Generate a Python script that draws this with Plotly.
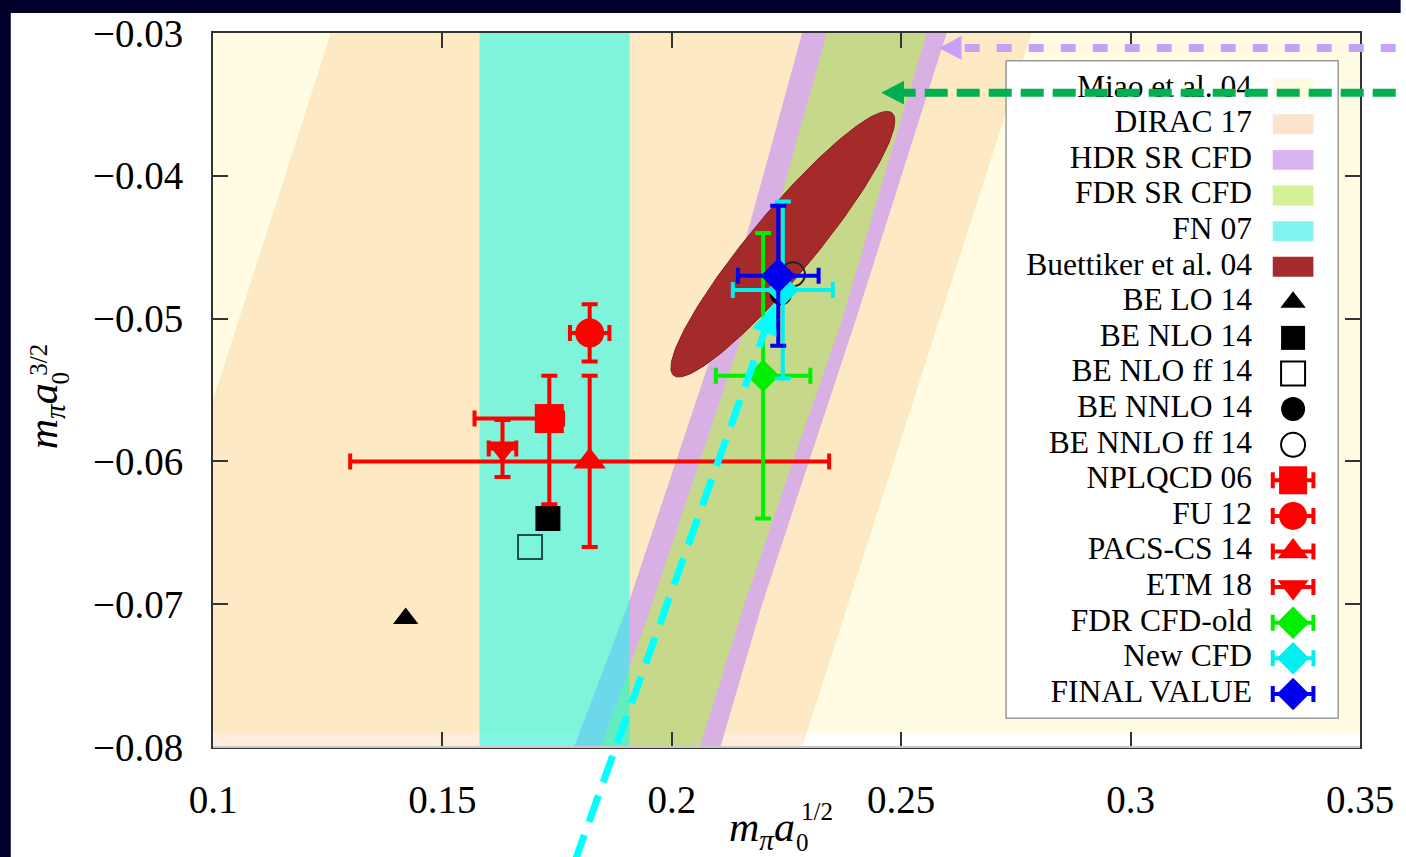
import numpy as np
import plotly.graph_objects as go

# ---------------- figure geometry (pixels) ----------------
W, H = 1406, 857
ML, MR, MT, MB = 213, 36, 29, 110
PW, PH = W - ML - MR, H - MT - MB
SERIF = "Liberation Serif, Times New Roman, Times, serif"

# ---------------- axes ----------------
x_range = [0.1, 0.35]
y_range = [-0.08, -0.03]
x_ticks = [0.1, 0.15, 0.2, 0.25, 0.3, 0.35]
x_ticklabels = ["0.1", "0.15", "0.2", "0.25", "0.3", "0.35"]
y_ticks = [-0.08, -0.07, -0.06, -0.05, -0.04, -0.03]
y_ticklabels = ["\u22120.08", "\u22120.07", "\u22120.06", "\u22120.05", "\u22120.04", "\u22120.03"]

# ---------------- constraint bands ----------------
# Miao et al. 04: lower bound on m a0^{3/2}
miao_ylow = -0.0790
# DIRAC 17: band in (a0^{1/2} - a0^{3/2})
dirac_diff = [0.1557, 0.3084]
# HDR / FDR sum-rule bands: x edges at given y
band_y = [-0.08, -0.07, -0.06, -0.05, -0.04, -0.03]
hdr_left = [0.1787, 0.1905, 0.2009, 0.2113, 0.2199, 0.2284]
hdr_right = [0.2106, 0.2197, 0.2299, 0.2402, 0.2500, 0.2599]
fdr_left = [0.1845, 0.1957, 0.2061, 0.2165, 0.2251, 0.2338]
fdr_right = [0.2061, 0.2158, 0.2264, 0.2372, 0.2463, 0.2556]
# FN 07: vertical band in a0^{1/2}
fn07_x = [0.1581, 0.1908]
# Buettiker et al. 04 ellipse: centre, half-widths, correlation
buett_center = [0.2242, -0.04479]
buett_sigma = [0.0244, 0.00930]
buett_rho = 0.93

# ---------------- points ----------------
be_lo = [0.1420, -0.0710]
be_nlo = [0.1730, -0.0640]
be_nlo_ff = [0.1691, -0.0660]
be_nnlo = [0.2238, -0.0483]
be_nnlo_ff = [0.2264, -0.0469]

# name, x, y, ex_minus, ex_plus, ey_minus, ey_plus
nplqcd06 = ["NPLQCD 06", 0.1733, -0.0570, 0.0163, 0.0030, 0.0060, 0.0030]
fu12 = ["FU 12", 0.1821, -0.0510, 0.0043, 0.0043, 0.0020, 0.0020]
pacs14 = ["PACS-CS 14", 0.1821, -0.0600, 0.0522, 0.0522, 0.0060, 0.0060]
etm18 = ["ETM 18", 0.1631, -0.0591, 0.0030, 0.0030, 0.0020, 0.0020]
fdr_old = ["FDR CFD-old", 0.2199, -0.0540, 0.0103, 0.0103, 0.0100, 0.0100]
new_cfd = ["New CFD", 0.2242, -0.0480, 0.0109, 0.0109, 0.0062, 0.0062]
final = ["FINAL VALUE", 0.2232, -0.0470, 0.0088, 0.0088, 0.0049, 0.0049]

legend_names = ["Miao et al. 04", "DIRAC 17", "HDR SR CFD", "FDR SR CFD", "FN 07",
                "Buettiker et al. 04", "BE LO 14", "BE NLO 14", "BE NLO ff 14",
                "BE NNLO 14", "BE NNLO ff 14", "NPLQCD 06", "FU 12", "PACS-CS 14",
                "ETM 18", "FDR CFD-old", "New CFD", "FINAL VALUE"]

# colours
C_MIAO = "#fffce3"
C_DIRAC = "rgba(245,180,100,0.24)"
C_HDR = "#d8b0e3"
C_FDR = "#c6d98b"
C_FN = "rgba(0,255,240,0.5)"
C_BUETT = "#a52a2a"
RED, GREEN, CYAN, BLUE = "#ff0000", "#00ee00", "#00f0f0", "#0000ee"

fig = go.Figure()


def fill_poly(xs, ys, color, **kw):
    fig.add_trace(go.Scatter(x=xs, y=ys, mode="lines", fill="toself", fillcolor=color,
                             line=dict(width=0), hoverinfo="skip", showlegend=False, **kw))


# Miao band
fill_poly([0.09, 0.36, 0.36, 0.09], [miao_ylow, miao_ylow, -0.02, -0.02], C_MIAO)
# DIRAC band
y_lo, y_hi = -0.09, -0.02
fill_poly([y_lo + dirac_diff[0], y_lo + dirac_diff[1], y_hi + dirac_diff[1], y_hi + dirac_diff[0]],
          [y_lo, y_lo, y_hi, y_hi], C_DIRAC)
# HDR and FDR bands
fill_poly(hdr_left + hdr_right[::-1], band_y + band_y[::-1], C_HDR)
fill_poly(fdr_left + fdr_right[::-1], band_y + band_y[::-1], C_FDR)
# FN 07
fill_poly([fn07_x[0], fn07_x[1], fn07_x[1], fn07_x[0]], [-0.09, -0.09, -0.02, -0.02], C_FN)
# Buettiker ellipse
t = np.linspace(0, 2 * np.pi, 240)
dphi = np.arccos(buett_rho)
ex = buett_center[0] + buett_sigma[0] * np.cos(t)
ey = buett_center[1] + buett_sigma[1] * np.cos(t - dphi)
fig.add_trace(go.Scatter(x=ex, y=ey, mode="lines", fill="toself", fillcolor=C_BUETT,
                         line=dict(color="#8a1c1c", width=1), hoverinfo="skip", showlegend=False))

# BE points
def be_point(p, symbol, size, fill, line_color="black", line_width=0):
    fig.add_trace(go.Scatter(x=[p[0]], y=[p[1]], mode="markers", showlegend=False,
                             marker=dict(symbol=symbol, size=size, color=fill,
                                         line=dict(color=line_color, width=line_width))))


be_point(be_lo, "triangle-up", 22, "black")
be_point(be_nlo, "square", 25, "black")
be_point(be_nlo_ff, "square-open", 24, "#1d4f4f", "#1d4f4f", 2)
be_point(be_nnlo, "circle", 22, "black")
be_point(be_nnlo_ff, "circle-open", 24, "#222222", "#222222", 2)


def err_point(rec, symbol, size, color):
    name, x, y, exm, exp, eym, eyp = rec
    fig.add_trace(go.Scatter(
        x=[x], y=[y], mode="markers", name=name, showlegend=False,
        marker=dict(symbol=symbol, size=size, color=color, line=dict(width=0)),
        error_x=dict(type="data", symmetric=False, array=[exp], arrayminus=[exm],
                     color=color, thickness=4, width=8),
        error_y=dict(type="data", symmetric=False, array=[eyp], arrayminus=[eym],
                     color=color, thickness=4, width=8)))


err_point(nplqcd06, "square", 29, RED)
err_point(fu12, "circle", 29, RED)
err_point(pacs14, "triangle-up", 28, RED)
err_point(etm18, "triangle-down", 28, RED)
err_point(fdr_old, "diamond", 25, GREEN)
err_point(new_cfd, "diamond", 25, CYAN)
err_point(final, "diamond", 27, BLUE)

# ---------------- key (drawn in pixel overlay axes) ----------------
KX0, KX1, KY0, KY1 = 1013, 1348, 57, 718
row0, row_step = 85, 35.8
rows = [row0 + i * row_step for i in range(len(legend_names))]
SW_X0, SW_X1, SW_XC = 1282, 1323, 1302.5
OV = dict(xaxis="x2", yaxis="y2", hoverinfo="skip", showlegend=False)

fig.add_trace(go.Scatter(x=[KX0, KX1, KX1, KX0, KX0], y=[KY0, KY0, KY1, KY1, KY0], mode="lines",
                         fill="toself", fillcolor="white", line=dict(color="#9a9a9a", width=1.5), **OV))
swatch_colors = ["#fffbe0", "#fbe3cc", "#d9b3f2", "#d3f296", "#80f3f3", C_BUETT]
for yc, col in zip(rows[:6], swatch_colors):
    fig.add_trace(go.Scatter(x=[SW_X0, SW_X1, SW_X1, SW_X0], y=[yc - 10, yc - 10, yc + 10, yc + 10],
                             mode="lines", fill="toself", fillcolor=col, line=dict(width=0), **OV))
fig.add_trace(go.Scatter(x=[1261] * len(rows), y=rows, mode="text", text=legend_names,
                         textposition="middle left",
                         textfont=dict(family=SERIF, size=31.5, color="black"), **OV))

key_be = [("triangle-up", 22, "black", "black", 0), ("square", 24, "black", "black", 0),
          ("square-open", 24, "black", "black", 2), ("circle", 24, "black", "black", 0),
          ("circle-open", 24, "black", "black", 2)]
for yc, (sym, sz, col, lc, lw) in zip(rows[6:11], key_be):
    fig.add_trace(go.Scatter(x=[SW_XC], y=[yc], mode="markers",
                             marker=dict(symbol=sym, size=sz, color=col, line=dict(color=lc, width=lw)), **OV))
key_err = [("square", 28, RED), ("circle", 28, RED), ("triangle-up", 27, RED),
           ("triangle-down", 27, RED), ("diamond", 25, GREEN), ("diamond", 25, CYAN),
           ("diamond", 25, BLUE)]
for yc, (sym, sz, col) in zip(rows[11:], key_err):
    fig.add_trace(go.Scatter(x=[SW_XC], y=[yc], mode="markers",
                             marker=dict(symbol=sym, size=sz, color=col),
                             error_x=dict(type="data", array=[20.5], color=col, thickness=4, width=8),
                             **OV))


# ---------------- pixel -> paper helpers ----------------
def px(x):
    return (x - ML) / PW


def py(y):
    return 1 - (y - MT) / PH


shapes = []
# dark frame strips
shapes.append(dict(type="rect", xref="paper", yref="paper", x0=px(-5), x1=px(9), y0=py(-5), y1=py(H + 5),
                   fillcolor="#00002a", line=dict(width=0), layer="above"))
shapes.append(dict(type="rect", xref="paper", yref="paper", x0=px(-5), x1=px(W + 5), y0=py(-5), y1=py(9),
                   fillcolor="#00002a", line=dict(width=0), layer="above"))
# softer bottom frame line
shapes.append(dict(type="line", xref="paper", yref="paper", x0=0, x1=1, y0=0, y1=0,
                   line=dict(color="#c8c8c8", width=2), layer="above"))


def dashed_arrow(x_start, y_start, x_tip, y_tip, color, dash, width, head_len, head_half):
    dx, dy = x_tip - x_start, y_tip - y_start
    n = np.hypot(dx, dy)
    ux, uy = dx / n, dy / n
    bx, by = x_tip - head_len * ux, y_tip - head_len * uy
    shapes.append(dict(type="line", xref="paper", yref="paper", x0=px(x_start), y0=py(y_start),
                       x1=px(bx), y1=py(by), line=dict(color=color, width=width, dash=dash)))
    pxp, pyp = -uy, ux
    c1 = (bx + head_half * pxp, by + head_half * pyp)
    c2 = (bx - head_half * pxp, by - head_half * pyp)
    path = (f"M {px(x_tip)} {py(y_tip)} L {px(c1[0])} {py(c1[1])} "
            f"L {px(c2[0])} {py(c2[1])} Z")
    shapes.append(dict(type="path", xref="paper", yref="paper", path=path,
                       fillcolor=color, line=dict(width=0)))


dashed_arrow(1406, 44, 945, 44, "#c8a0f8", "15px,17px", 8, 23, 12)
dashed_arrow(1406, 89, 887, 89, "#00b050", "23px,9px", 8, 23, 12)
dashed_arrow(578, 862, 780, 300, "#00ffff", "28px,14px", 7, 32, 13)

# ---------------- axis titles ----------------
annotations = []


def ann(x, y, text, size, angle=0):
    annotations.append(dict(xref="paper", yref="paper", x=px(x), y=py(y), text=text, showarrow=False,
                            textangle=angle, xanchor="center", yanchor="middle",
                            font=dict(family=SERIF, size=size, color="black")))


ann(767, 830, "<i>m</i><sub><i>\u03c0</i></sub><i>a</i>", 42)
ann(808, 843, "0", 25)
ann(822, 812, "1/2", 25)
ann(44, 414, "<i>m</i><sub><i>\u03c0</i></sub><i>a</i>", 42, -90)
ann(59, 376, "0", 25, -90)
ann(37, 358, "3/2", 25, -90)

axis_common = dict(showgrid=False, zeroline=False, showline=True, linecolor="#333333", linewidth=2,
                   mirror="ticks", ticks="inside", ticklen=15, tickwidth=1.5, tickcolor="#333333",
                   tickfont=dict(family=SERIF, size=39, color="black"))

fig.update_layout(
    width=W, height=H, margin=dict(l=ML, r=MR, t=MT, b=MB, pad=0),
    paper_bgcolor="white", plot_bgcolor="white", showlegend=False,
    font=dict(family=SERIF),
    xaxis=dict(range=x_range, tickvals=x_ticks, ticktext=x_ticklabels, ticklabelstandoff=17,
               **axis_common),
    yaxis=dict(range=y_range, tickvals=y_ticks, ticktext=y_ticklabels, ticklabelstandoff=20,
               **axis_common),
    xaxis2=dict(overlaying="x", range=[ML, W - MR], visible=False, fixedrange=True),
    yaxis2=dict(overlaying="y", range=[H - MB, MT], visible=False, fixedrange=True),
    shapes=shapes, annotations=annotations,
)

fig.write_html("out.html")
